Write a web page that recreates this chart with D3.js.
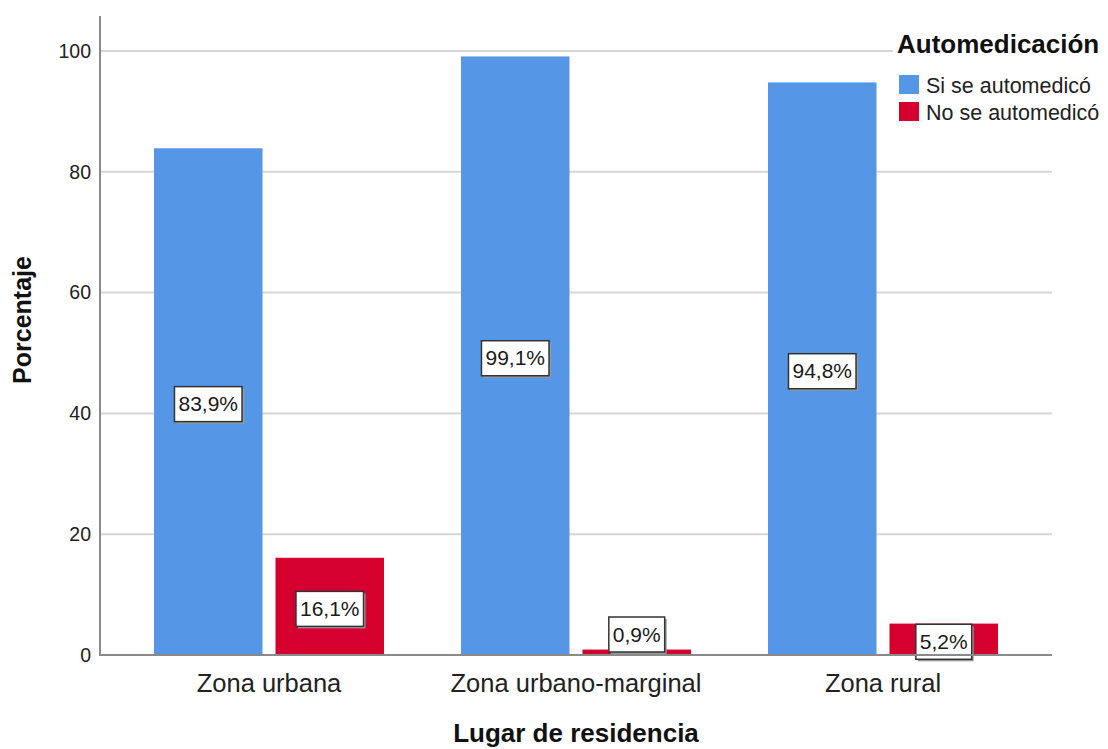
<!DOCTYPE html>
<html lang="es">
  <head>
    <meta charset="UTF-8" />
    <title>Automedicación por lugar de residencia</title>
    <style>
      body {
        margin: 0;
        background: #fff;
      }
      svg text {
        font-family: Arial, "Liberation Sans", sans-serif;
      }
    </style>
  </head>
  <body>
    <script src="https://cdn.jsdelivr.net/npm/d3@7"></script>
    <script>
      // données
      const categories = ["Zona urbana", "Zona urbano-marginal", "Zona rural"];
      const series = ["Si se automedicó", "No se automedicó"];
      const valeursSi = [83.9, 99.1, 94.8];
      const valeursNo = [16.1, 0.9, 5.2];
      const ticksY = [0, 20, 40, 60, 80, 100];
      const couleurs = ["#5596e6", "#d6002f"];

      const largeur = 1108;
      const hauteur = 749;

      const svg = d3
        .select("body")
        .append("svg")
        .attr("width", largeur)
        .attr("height", hauteur);

      const lignes = categories.map((c, i) => ({
        categorie: c,
        valeurs: [valeursSi[i], valeursNo[i]],
      }));

      const y = d3.scaleLinear().domain([0, 105.8]).range([655, 16]);

      const x0 = d3.scaleBand().domain(categories).range([115.5, 1036.5]);

      const x1 = d3
        .scaleBand()
        .domain(series)
        .range([38.5, 268.5])
        .paddingInner(0.107);

      // grille
      svg
        .append("g")
        .selectAll("line")
        .data(ticksY.filter((t) => t > 0))
        .enter()
        .append("line")
        .attr("x1", 100)
        .attr("x2", 1052)
        .attr("y1", (d) => y(d))
        .attr("y2", (d) => y(d))
        .attr("stroke", "#d6d6d6")
        .attr("stroke-width", 2);

      // étiquettes de l'axe Y
      svg
        .append("g")
        .selectAll("text")
        .data(ticksY)
        .enter()
        .append("text")
        .attr("x", 91)
        .attr("y", (d) => y(d))
        .attr("dy", "0.35em")
        .attr("text-anchor", "end")
        .attr("font-size", 19.5)
        .attr("fill", "#222")
        .text((d) => d);

      // barres
      const groupes = svg
        .append("g")
        .selectAll("g")
        .data(lignes)
        .enter()
        .append("g")
        .attr("transform", (d) => `translate(${x0(d.categorie)},0)`);

      groupes
        .selectAll("rect")
        .data((d) => d.valeurs.map((v, i) => ({ serie: series[i], v: v, i: i })))
        .enter()
        .append("rect")
        .attr("x", (d) => x1(d.serie))
        .attr("width", x1.bandwidth())
        .attr("y", (d) => y(d.v))
        .attr("height", (d) => y(0) - y(d.v))
        .attr("fill", (d) => couleurs[d.i]);

      // axes
      svg
        .append("line")
        .attr("x1", 100)
        .attr("x2", 100)
        .attr("y1", y.range()[1])
        .attr("y2", y(0) + 1)
        .attr("stroke", "#8a8a8a")
        .attr("stroke-width", 2);

      svg
        .append("line")
        .attr("x1", 99)
        .attr("x2", 1052)
        .attr("y1", y(0))
        .attr("y2", y(0))
        .attr("stroke", "#8a8a8a")
        .attr("stroke-width", 2);

      // étiquettes des barres
      const etiquettes = groupes
        .selectAll("g.etiquette")
        .data((d) => d.valeurs.map((v, i) => ({ serie: series[i], v: v })))
        .enter()
        .append("g")
        .attr("class", "etiquette")
        .attr("transform", (d) => {
          const cx = x1(d.serie) + x1.bandwidth() / 2;
          let cy = y(d.v / 2) + 2;
          if (cy > y(0) - 12) cy = y(0) - 21;
          return `translate(${cx},${cy})`;
        });

      etiquettes.each(function (d) {
        const g = d3.select(this);
        const texte = d3.format(".1f")(d.v).replace(".", ",") + "%";
        const t = g
          .append("text")
          .attr("text-anchor", "middle")
          .attr("dy", "0.36em")
          .attr("font-size", 21)
          .attr("fill", "#1a1a1a")
          .text(texte);
        const l = t.node().getComputedTextLength() + 8;
        g.insert("rect", "text")
          .attr("x", -l / 2 + 2)
          .attr("y", -17 + 2)
          .attr("width", l)
          .attr("height", 35)
          .attr("fill", "#9a9a9a");
        g.insert("rect", "text")
          .attr("x", -l / 2)
          .attr("y", -17)
          .attr("width", l)
          .attr("height", 35)
          .attr("fill", "#fff")
          .attr("stroke", "#333")
          .attr("stroke-width", 1.5);
      });

      // étiquettes des catégories
      svg
        .append("g")
        .selectAll("text")
        .data(categories)
        .enter()
        .append("text")
        .attr("x", (d) => x0(d) + x0.bandwidth() / 2)
        .attr("y", 692)
        .attr("text-anchor", "middle")
        .attr("font-size", 25.5)
        .attr("fill", "#222")
        .text((d) => d);

      // titres des axes
      svg
        .append("text")
        .attr("x", 576)
        .attr("y", 742)
        .attr("text-anchor", "middle")
        .attr("font-size", 26)
        .attr("font-weight", "bold")
        .attr("fill", "#111")
        .text("Lugar de residencia");

      svg
        .append("text")
        .attr("transform", "translate(31,320) rotate(-90)")
        .attr("text-anchor", "middle")
        .attr("font-size", 25)
        .attr("font-weight", "bold")
        .attr("fill", "#111")
        .text("Porcentaje");

      // légende
      const legende = svg.append("g");
      legende
        .append("rect")
        .attr("x", 893)
        .attr("y", 26)
        .attr("width", 215)
        .attr("height", 102)
        .attr("fill", "#fff");

      legende
        .append("text")
        .attr("x", 897)
        .attr("y", 53)
        .attr("font-size", 26)
        .attr("font-weight", "bold")
        .attr("fill", "#111")
        .text("Automedicación");

      const items = legende
        .selectAll("g.item")
        .data(series)
        .enter()
        .append("g")
        .attr("class", "item")
        .attr("transform", (d, i) => `translate(899,${75 + i * 27})`);

      items
        .append("rect")
        .attr("width", 20)
        .attr("height", 19)
        .attr("fill", (d, i) => couleurs[i]);

      items
        .append("text")
        .attr("x", 27)
        .attr("y", 18)
        .attr("font-size", 21.5)
        .attr("fill", "#222")
        .text((d) => d);
    </script>
  </body>
</html>
